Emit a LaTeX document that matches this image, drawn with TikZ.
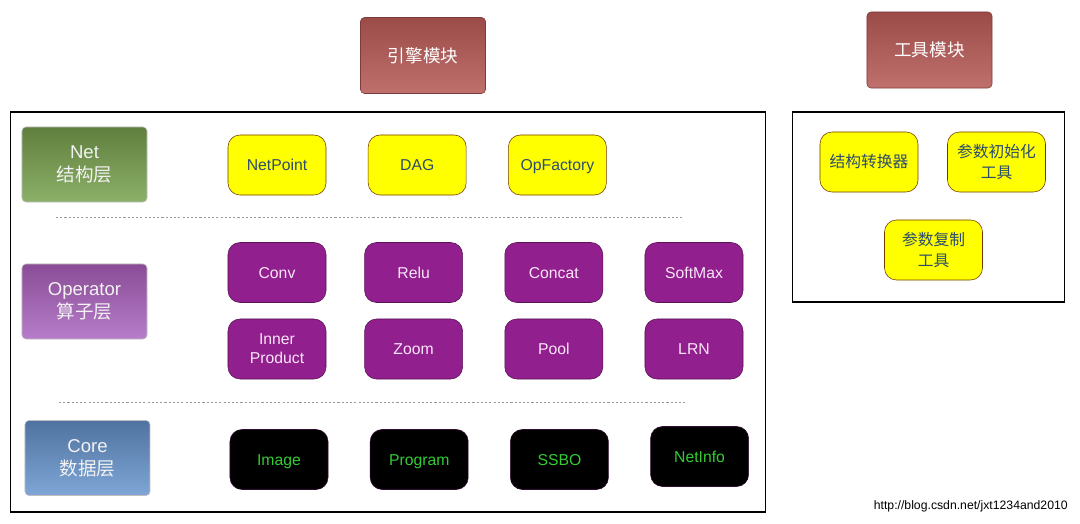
\documentclass[tikz,border=0pt]{standalone}
\usepackage{fontspec}
\usepackage{tikz}
\usepackage{xcolor}
\usetikzlibrary{positioning}
\setmainfont{Liberation Sans}
\newfontfamily\cjk{Noto Sans CJK SC}

\definecolor{modtop}{HTML}{9B4B48}
\definecolor{modbottom}{HTML}{C0706C}
\definecolor{nettop}{HTML}{5F7F3E}
\definecolor{netbottom}{HTML}{8CB068}
\definecolor{optop}{HTML}{8A4C96}
\definecolor{opbottom}{HTML}{B67DCA}
\definecolor{coretop}{HTML}{4F73A0}
\definecolor{corebottom}{HTML}{7FA6D6}
\definecolor{itemyellow}{HTML}{FFFF00}
\definecolor{yellowtext}{HTML}{2B4C6F}
\definecolor{itempurple}{HTML}{921F8E}
\definecolor{purpletext}{HTML}{F8E6F8}
\definecolor{coretext}{HTML}{33CC33}

\begin{document}
\begin{tikzpicture}[
      x=0.025cm,y=-0.025cm,
      node distance=1.04cm,
      module/.style={rectangle,rounded corners=0.1cm,draw=modtop!80!black,top color=modtop,bottom color=modbottom,text=white,align=center,minimum width=3.125cm,minimum height=1.9cm,font=\cjk\fontsize{12.5}{15}\selectfont},
      layer/.style={rectangle,rounded corners=0.1cm,draw=black!25,text=white!95!black,align=center,minimum width=3.125cm,minimum height=1.875cm,font=\fontsize{13.2}{16.5}\selectfont},
      item/.style={rectangle,rounded corners=0.3cm,align=center,minimum width=2.45cm,minimum height=1.5cm,inner sep=1pt,text height=8pt,text depth=0pt,font=\fontsize{11.2}{13.5}\selectfont},
      twoline/.style={text height={},text depth={}},
      netitem/.style={item,draw=orange!45!black,fill=itemyellow,text=yellowtext},
      opitem/.style={item,draw=itempurple!60!black,fill=itempurple,text=purpletext},
      coreitem/.style={item,draw=itempurple!35!black,fill=black,text=coretext},
      toolitem/.style={netitem,font=\cjk\fontsize{11.2}{15}\selectfont},
      frame/.style={rectangle,draw=black,thick,inner sep=0pt},
      divider/.style={gray!80,dash pattern=on 1.5pt off 1.5pt,line width=0.5pt}
    ]
    \useasboundingbox (0,0) rectangle (1080,524);
    % modules
    \node[module] (engine) at (423,55.5) {引擎模块};
    \node[module] (toolmod) at (929.5,50) {工具模块};
    % frames
    \node[frame,minimum width=18.85cm,minimum height=10cm] (mainframe) at (388,312) {};
    \node[frame,minimum width=6.8cm,minimum height=4.75cm] (toolframe) at (928.5,207) {};
    % layers
    \node[layer,top color=nettop,bottom color=netbottom] (netlayer) at (84.5,164.5) {Net\\{\cjk 结构层}};
    \node[layer,top color=optop,bottom color=opbottom] (oplayer) at (84.5,301.5) {Operator\\{\cjk 算子层}};
    \node[layer,top color=coretop,bottom color=corebottom] (corelayer) at (87.5,458) {Core\\{\cjk 数据层}};
    % net row
    \node[netitem] (netpoint) at (277,165) {NetPoint};
    \node[netitem,right=of netpoint] (dag) {DAG};
    \node[netitem,right=of dag] (opfactory) {OpFactory};
    \coordinate (sep1a) at (56,217);
    \coordinate (sep1b) at (683,217);
    \draw[divider] (sep1a) -- (sep1b);
    % operator rows
    \node[opitem] (conv) at (277,272.5) {Conv};
    \node[opitem,right=0.95cm of conv] (relu) {Relu};
    \node[opitem,right=of relu] (concat) {Concat};
    \node[opitem,right=of concat] (softmax) {SoftMax};
    \node[opitem,twoline] (inner) at (277,349) {Inner\\Product};
    \node[opitem,right=0.95cm of inner] (zoom) {Zoom};
    \node[opitem,right=of zoom] (pool) {Pool};
    \node[opitem,right=of pool] (lrn) {LRN};
    \coordinate (sep2a) at (59,402);
    \coordinate (sep2b) at (686,402);
    \draw[divider] (sep2a) -- (sep2b);
    % core row
    \node[coreitem] (image) at (279,459.5) {Image};
    \node[coreitem,right=of image] (program) {Program};
    \node[coreitem,right=of program] (ssbo) {SSBO};
    \node[coreitem,right=of ssbo,yshift=0.075cm] (netinfo) {NetInfo};
    % tools
    \node[toolitem] (convert) at (869,162) {结构转换器};
    \node[toolitem,twoline] (paraminit) at (996.5,162) {参数初始化\\工具};
    \node[toolitem,twoline] (paramcopy) at (933.5,250) {参数复制\\工具};
    \node[anchor=east,inner sep=0pt,font=\fontsize{8.7}{10}\selectfont] (url) at (1068,506) {http://blog.csdn.net/jxt1234and2010};
  \end{tikzpicture}
\end{document}
